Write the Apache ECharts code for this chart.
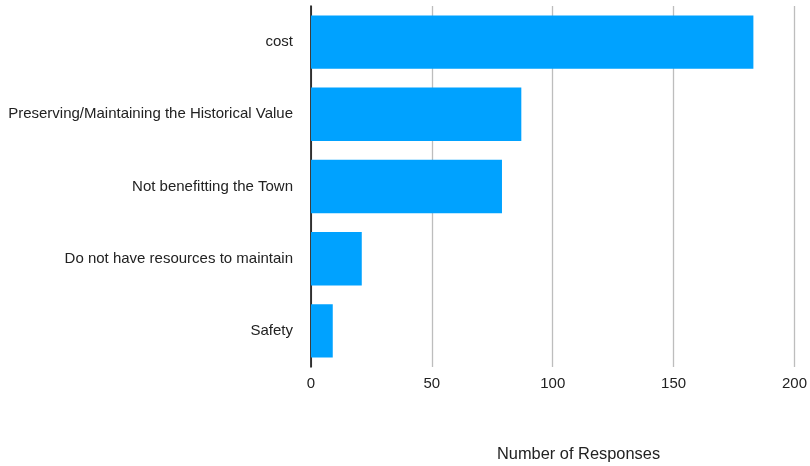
<!DOCTYPE html>
<html><head><meta charset="utf-8">
<script src="https://cdn.jsdelivr.net/npm/echarts@6/dist/echarts.min.js"></script>
<style>html,body{margin:0;padding:0;background:#fff}#c{width:810px;height:466px}</style>
</head><body><div id="c"></div>
<script>
const categories = ["cost","Preserving/Maintaining the Historical Value","Not benefitting the Town","Do not have resources to maintain","Safety"];
const values = [183, 87, 79, 21, 9];
const xTicks = [0, 50, 100, 150, 200];
const axisTitle = "Number of Responses";

const font = "'Liberation Sans', Arial, Helvetica, sans-serif";
const chart = echarts.init(document.getElementById('c'), null, {renderer:'canvas'});
chart.setOption({
  animation:false,
  backgroundColor:'#fff',
  grid:{left:311, right:13, top:6, bottom:99, containLabel:false},
  xAxis:{
    type:'value', min:xTicks[0], max:xTicks[xTicks.length-1], interval:xTicks[1]-xTicks[0],
    axisLine:{show:false}, axisTick:{show:false},
    splitLine:{show:true, lineStyle:{color:'#bdbdbd', width:1.3}},
    axisLabel:{color:'#222', fontSize:15, fontFamily:font, margin:9}
  },
  yAxis:{
    type:'category', data:categories, inverse:true,
    axisLine:{show:true, lineStyle:{color:'#000', width:1.5}},
    axisTick:{show:false},
    axisLabel:{color:'#222', fontSize:15, fontFamily:font, margin:18}
  },
  series:[{
    type:'bar', data:values, barCategoryGap:'26%',
    itemStyle:{color:'#00a2ff'}
  }],
  graphic:[{
    type:'text', left:497, top:446,
    style:{text:axisTitle, fill:'#222', font:'16.4px '+font}
  }]
});
</script></body></html>
